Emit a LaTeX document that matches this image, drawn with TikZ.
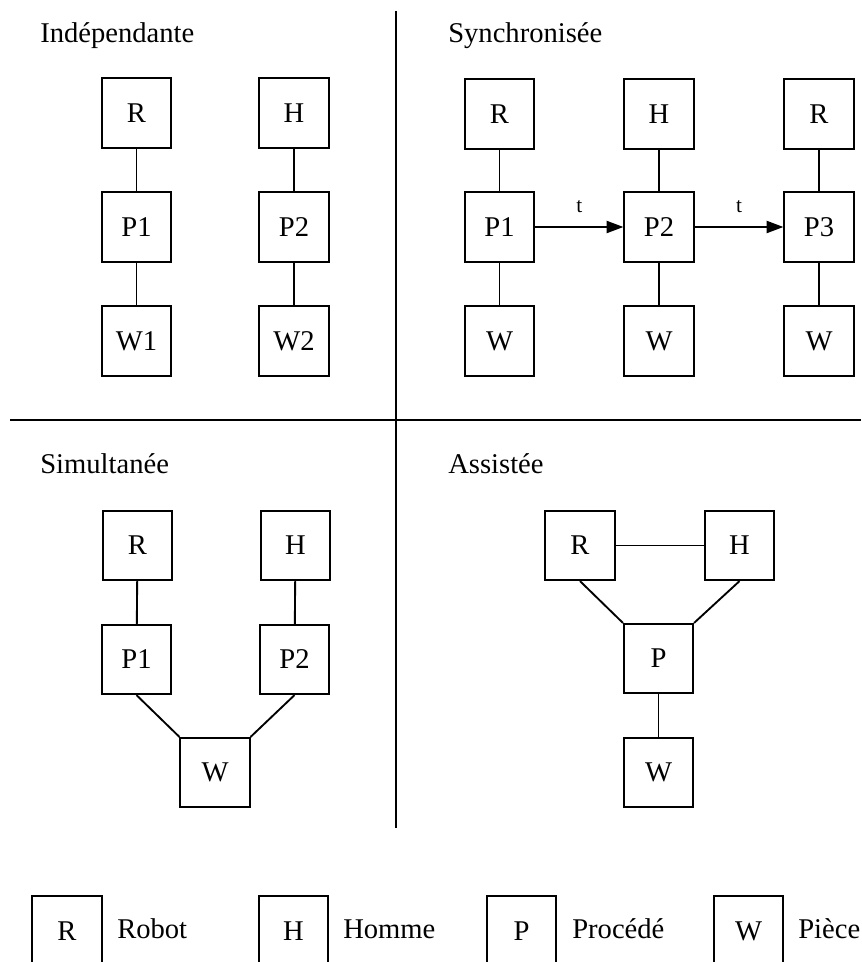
\documentclass[tikz,border=0pt]{standalone}
\usepackage{fontspec}
\setmainfont{Liberation Serif}
\usetikzlibrary{arrows.meta}
\begin{document}
\begin{tikzpicture}[x=0.75pt,y=-0.75pt,
  every node/.style={font=\fontsize{21.45pt}{25pt}\selectfont},
  box/.style={draw,line width=1.4pt,rectangle,minimum width=52pt,minimum height=52pt,inner sep=0pt},
  link/.style={line width=1.4pt},
  flow/.style={line width=1.4pt,-{Triangle[length=12.5pt,width=9pt]}},
  lbl/.style={font=\fontsize{16pt}{18pt}\selectfont},
  title/.style={anchor=base west,inner sep=0pt},
  legtext/.style={anchor=west,inner sep=0pt},
  divider/.style={line width=1.4pt}]
\useasboundingbox (0,0) rectangle (861,962);
\clip (0,0) rectangle (861,962);

% dividers
\coordinate (vt) at (396,11);
\coordinate (vb) at (396,828);
\coordinate (hl) at (10,420);
\coordinate (hr) at (861,420);
\draw[divider] (vt) -- (vb);
\draw[divider] (hl) -- (hr);

% titles
\node[title] (t1) at (40,43) {Indépendante};
\node[title] (t2) at (448,43) {Synchronisée};
\node[title] (t3) at (40,473) {Simultanée};
\node[title] (t4) at (448,473) {Assistée};

% Independante
\node[box] (iR) at (136.5,113) {R};
\node[box] (iP1) at (136.5,227) {P1};
\node[box] (iW1) at (136.5,341) {W1};
\node[box] (iH) at (294,113) {H};
\node[box] (iP2) at (294,227) {P2};
\node[box] (iW2) at (294,341) {W2};
\draw[link] (iR) -- (iP1);
\draw[link] (iP1) -- (iW1);
\draw[link] (iH) -- (iP2);
\draw[link] (iP2) -- (iW2);

% Synchronisee
\node[box] (sR1) at (499.5,114) {R};
\node[box] (sP1) at (499.5,227) {P1};
\node[box] (sW1) at (499.5,341) {W};
\node[box] (sH) at (659,114) {H};
\node[box] (sP2) at (659,227) {P2};
\node[box] (sW2) at (659,341) {W};
\node[box] (sR3) at (819,114) {R};
\node[box] (sP3) at (819,227) {P3};
\node[box] (sW3) at (819,341) {W};
\draw[link] (sR1) -- (sP1);
\draw[link] (sP1) -- (sW1);
\draw[link] (sH) -- (sP2);
\draw[link] (sP2) -- (sW2);
\draw[link] (sR3) -- (sP3);
\draw[link] (sP3) -- (sW3);
\draw[flow] (sP1) -- node[midway,lbl,yshift=15pt] {t} (sP2);
\draw[flow] (sP2) -- node[midway,lbl,yshift=15pt] {t} (sP3);

% Simultanee
\node[box] (mR) at (137.5,545.5) {R};
\node[box] (mH) at (295.5,545.5) {H};
\node[box] (mP1) at (136.5,659.5) {P1};
\node[box] (mP2) at (294.5,659.5) {P2};
\node[box] (mW) at (215,772.5) {W};
\draw[link] (mR) -- (mP1);
\draw[link] (mH) -- (mP2);
\draw[link] (mP1.south) -- (mW.north west);
\draw[link] (mP2.south) -- (mW.north east);

% Assistee
\node[box] (aR) at (580,545.5) {R};
\node[box] (aH) at (739.5,545.5) {H};
\node[box] (aP) at (658.5,658.5) {P};
\node[box] (aW) at (658.5,772.5) {W};
\draw[link] (aR) -- (aH);
\draw[link] (aR.south) -- (aP.north west);
\draw[link] (aH.south) -- (aP.north east);
\draw[link] (aP) -- (aW);

% legend
\node[box] (lR) at (67,931) {R};
\node[legtext] (lRt) at (117,929) {Robot};
\node[box] (lH) at (293.5,931) {H};
\node[legtext] (lHt) at (343,929) {Homme};
\node[box] (lP) at (521.5,931) {P};
\node[legtext] (lPt) at (572,929) {Procédé};
\node[box] (lW) at (748.5,931) {W};
\node[legtext] (lWt) at (798,929) {Pièce};
\end{tikzpicture}
\end{document}
